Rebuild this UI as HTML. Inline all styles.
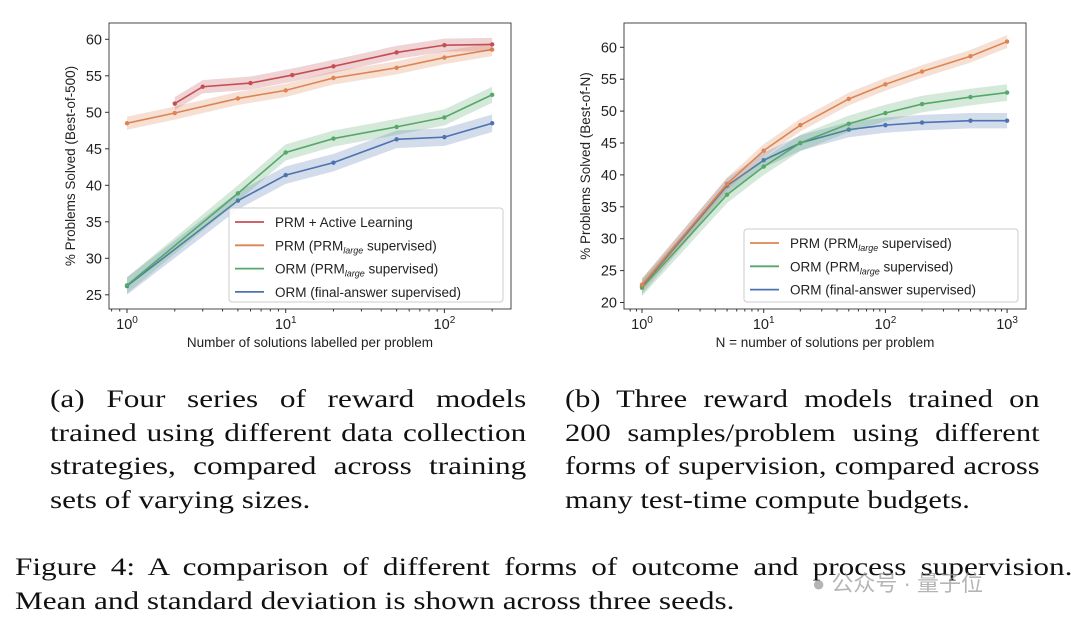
<!DOCTYPE html>
<html><head><meta charset="utf-8">
<style>
body{margin:0;width:1080px;height:626px;background:#fff;overflow:hidden;position:relative;font-family:"Liberation Sans",sans-serif}
svg{position:absolute;left:0;top:0}
.cap{position:absolute;font-family:"Liberation Serif","Noto Serif CJK SC",serif;font-size:25px;color:#111;line-height:33.5px;transform:scaleX(1.25);transform-origin:0 0}
.cap div{text-align:justify;text-align-last:justify;white-space:nowrap}
.cap div.last{text-align-last:left}
</style></head><body>
<svg id="chart" width="1080" height="626"></svg>
<div class="cap" style="left:50px;top:383px;width:381px">
<div>(a) Four series of reward models</div><div>trained using different data collection</div><div>strategies, compared across training</div><div class="last">sets of varying sizes.</div></div>
<div class="cap" style="left:565px;top:383px;width:389px;transform:scaleX(1.22)">
<div>(b) Three reward models trained on</div><div>200 samples/problem using different</div><div>forms of supervision, compared across</div><div class="last">many test-time compute budgets.</div></div>
<div class="cap" style="left:15px;top:551px;width:846px">
<div>Figure 4: A comparison of different forms of outcome and process supervision.</div><div class="last">Mean and standard deviation is shown across three seeds.</div></div>
<div style="position:absolute;left:812px;top:566px;font-family:'Liberation Sans','Noto Sans CJK SC',sans-serif;font-size:22px;color:rgba(150,150,150,0.7)">● 公众号 · 量子位</div>
<script>
const leftALx=[2,3,6,11,20,50,100,200];
const leftAL=[51.2,53.5,54.0,55.1,56.3,58.2,59.2,59.3];
const leftX=[1,2,5,10,20,50,100,200];
const leftPRM=[48.5,49.9,51.9,53.0,54.7,56.1,57.5,58.6];
const leftX2=[1,5,10,20,50,100,200];
const leftORMp=[26.3,38.9,44.5,46.4,48.0,49.3,52.4];
const leftORMf=[26.2,37.9,41.4,43.1,46.3,46.6,48.5];
const rightX=[1,5,10,20,50,100,200,500,1000];
const rightPRM=[22.8,38.6,43.8,47.8,51.9,54.2,56.2,58.6,60.9];
const rightORMp=[22.3,36.9,41.3,45.0,48.0,49.7,51.1,52.2,52.9];
const rightORMf=[22.5,38.3,42.3,45.0,47.1,47.8,48.2,48.5,48.5];
const leftYTicks=[25,30,35,40,45,50,55,60];
const rightYTicks=[20,25,30,35,40,45,50,55,60];
const C={red:'#c44e52',orange:'#dd8452',green:'#55a868',blue:'#4c72b0'};
const NS='http://www.w3.org/2000/svg';
const svg=document.getElementById('chart');
function mk(t,a,p){const e=document.createElementNS(NS,t);for(const k in a)e.setAttribute(k,a[k]);(p||svg).appendChild(e);return e;}
function panel(cfg){
  const g=mk('g',{});
  
  
  const sx=v=>cfg.x0+Math.log10(v)*cfg.dec;
  const sy=v=>cfg.y60+(60-v)*cfg.py;
  cfg.series.forEach(s=>{
    const sg=mk('g',{},g);
    
    
    let up=s.x.map((x,i)=>sx(x)+','+sy(s.y[i]+s.b)).join(' ');
    let dn=s.x.map((x,i)=>sx(x)+','+sy(s.y[i]-s.b)).reverse().join(' ');
    const band=mk('polygon',{points:up+' '+dn,fill:s.c,'fill-opacity':0.25,stroke:'none'},sg);
    
    
    const ln=mk('polyline',{points:s.x.map((x,i)=>sx(x)+','+sy(s.y[i])).join(' '),fill:'none',stroke:s.c,'stroke-width':1.6},sg);
    
    
    s.x.forEach((x,i)=>{const p=mk('circle',{cx:sx(x),cy:sy(s.y[i]),r:2.2,fill:s.c},sg);
      
      });
  });
  mk('rect',{x:cfg.bx0,y:cfg.by0,width:cfg.bx1-cfg.bx0,height:cfg.by1-cfg.by0,fill:'none',stroke:'#333','stroke-width':0.9},g);
  cfg.yt.forEach(v=>{const y=sy(v);mk('line',{x1:cfg.bx0-4,x2:cfg.bx0,y1:y,y2:y,stroke:'#333'},g);
    const t=mk('text',{x:cfg.bx0-7,y:y+5,'text-anchor':'end','font-size':14.5,fill:'#222'},g);t.textContent=v;
    });
  for(let d=0;d<=cfg.maxDec;d++){
    const x=sx(Math.pow(10,d));
    mk('line',{x1:x,x2:x,y1:cfg.by1,y2:cfg.by1+4,stroke:'#333'},g);
    const t=mk('text',{x:x,y:cfg.by1+20,'text-anchor':'middle','font-size':14.5,fill:'#222'},g);
    t.innerHTML='10<tspan dy="-6" font-size="10">'+d+'</tspan>';
    
    for(let m=2;m<=9;m++){const xm=sx(m*Math.pow(10,d));if(xm<cfg.bx1)mk('line',{x1:xm,x2:xm,y1:cfg.by1,y2:cfg.by1+2.5,stroke:'#333'},g);}
  }
  for(let m=2;m<=9;m++){const xm=sx(m/10);if(xm>cfg.bx0)mk('line',{x1:xm,x2:xm,y1:cfg.by1,y2:cfg.by1+2.5,stroke:'#333'},g);}
  const xl=mk('text',{x:(cfg.bx0+cfg.bx1)/2,y:cfg.by1+38,'text-anchor':'middle','font-size':13.5,fill:'#222'},g);
  xl.textContent=cfg.xlabel;
  const yl=mk('text',{x:0,y:0,'text-anchor':'middle','font-size':13.5,fill:'#222',transform:'translate('+(cfg.bx0-34)+','+((cfg.by0+cfg.by1)/2)+') rotate(-90)'},g);
  yl.textContent=cfg.ylabel;
  const L=cfg.leg;
  const lg=mk('g',{},g);
  mk('rect',{x:L.x,y:L.y,width:L.w,height:L.h,rx:3,fill:'#fff','fill-opacity':0.85,stroke:'#ccc'},lg);
  cfg.series.slice().reverse().forEach((s,i)=>{
    const yy=L.y+14+i*23.3;
    const e=mk('g',{},lg);
    mk('line',{x1:L.x+6,x2:L.x+35,y1:yy,y2:yy,stroke:s.c,'stroke-width':1.8},e);
    const t=mk('text',{x:L.x+46,y:yy+5,'font-size':13.5,fill:'#222'},e);t.innerHTML=s.label;
  });
}
const sub='PRM<tspan font-size="9" font-style="italic" dy="3">large</tspan><tspan dy="-3"> supervised)</tspan>';
panel({name:'chart-a',x0:127,dec:158.7,y60:39.3,py:36.5/5,bx0:109,bx1:511,by0:23,by1:309,maxDec:2,yt:leftYTicks,
  xlabel:'Number of solutions labelled per problem',ylabel:'% Problems Solved (Best-of-500)',
  leg:{x:229,y:208,w:274,h:94},
  series:[
   {name:'orm-final-answer',x:leftX2,y:leftORMf,c:C.blue,b:1.2,label:'ORM (final-answer supervised)'},
   {name:'orm-prm-large',x:leftX2,y:leftORMp,c:C.green,b:1.1,label:'ORM ('+sub},
   {name:'prm-prm-large',x:leftX,y:leftPRM,c:C.orange,b:0.9,label:'PRM ('+sub},
   {name:'prm-active-learning',x:leftALx,y:leftAL,c:C.red,b:0.9,label:'PRM + Active Learning'}]});
panel({name:'chart-b',x0:642,dec:121.7,y60:47.3,py:31.9/5,bx0:624,bx1:1026,by0:23,by1:309,maxDec:3,yt:rightYTicks,
  xlabel:'N = number of solutions per problem',ylabel:'% Problems Solved (Best-of-N)',
  leg:{x:744,y:229,w:274,h:73},
  series:[
   {name:'orm-final-answer',x:rightX,y:rightORMf,c:C.blue,b:1.2,label:'ORM (final-answer supervised)'},
   {name:'orm-prm-large',x:rightX,y:rightORMp,c:C.green,b:1.3,label:'ORM ('+sub},
   {name:'prm-prm-large',x:rightX,y:rightPRM,c:C.orange,b:1.0,label:'PRM ('+sub}]});
</script>
</body></html>
